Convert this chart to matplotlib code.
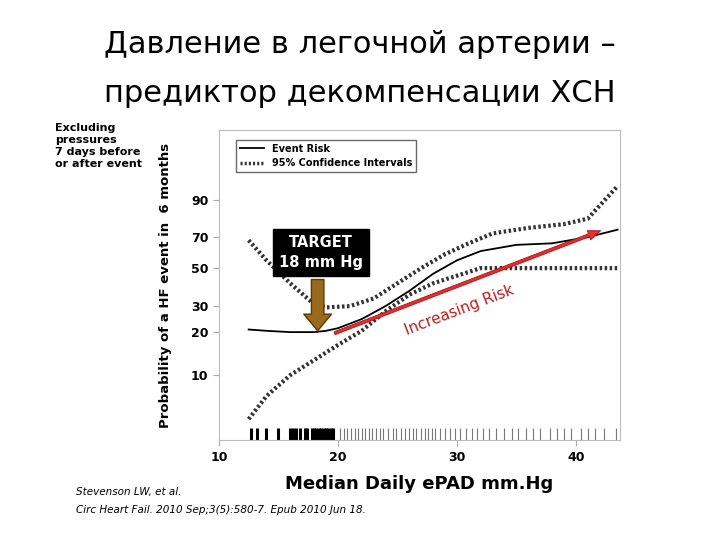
import numpy as np
import matplotlib.pyplot as plt

# tick value -> vertical position (pixels from top)
scale_vals = [0, 5, 10, 20, 30, 50, 70, 90, 100]
scale_pos = [440, 410, 375, 332, 306, 268, 237, 200, 130]

def fwd(v):
    return -np.interp(v, scale_vals, scale_pos)

def inv(p):
    return np.interp(-p, scale_pos[::-1], scale_vals[::-1])

risk_x = [12.5, 14, 16, 18, 19, 20, 22, 24, 26, 28, 30, 32, 35, 38, 41, 43.5]
risk_y = [21, 20.5, 20, 20, 20.5, 21.5, 25, 30, 38, 47, 55, 61, 65, 66, 70, 74]
upper_x = [12.5, 14, 16, 18, 19, 21, 23, 25, 27, 29, 31, 33, 36, 39, 41, 43.5]
upper_y = [68, 55, 42, 31, 29.5, 30, 34, 42, 50, 59, 66, 72, 75, 77, 80, 92]
lower_x = [12.5, 14, 16, 18, 20, 22, 24, 26, 28, 30, 32, 35, 43.5]
lower_y = [3.5, 7, 10, 13.5, 17, 20.5, 28, 36, 42, 46, 50, 50, 50]
rug_thick = [12.7, 13.2, 14.0, 15.0, 16.0, 16.2, 16.5, 16.8, 17.2, 17.4, 17.8, 18.0, 18.2, 18.4, 18.6, 18.8, 19.0, 19.2, 19.4, 19.6]
rug_thin = [20.2, 20.5, 20.8, 21.1, 21.4, 21.7, 22.0, 22.3, 22.6, 22.9, 23.2, 23.5, 23.8, 24.2, 24.6, 24.9, 25.3, 25.6, 26.0,
            26.3, 26.6, 27.0, 27.3, 27.6, 27.9, 28.2, 28.6, 29.0, 29.4, 29.8, 30.3, 30.8, 31.3, 31.7, 32.2, 32.7, 33.3,
            34.0, 34.6, 35.1, 35.8, 36.4, 37.0, 37.8, 38.4, 39.0, 39.6, 40.4, 41.0, 41.6, 42.4, 43.4]
y_ticks = [10, 20, 30, 50, 70, 90]
x_ticks = [10, 20, 30, 40]

fig = plt.figure(figsize=(7.2, 5.4), dpi=100)
fig.patch.set_facecolor('white')
ax = fig.add_axes([0.304, 0.185, 0.557, 0.574])
ax.set_yscale('function', functions=(fwd, inv))
ax.set_xlim(10, 43.7)
ax.set_ylim(0, 100)

ax.plot(risk_x, risk_y, color='black', lw=1.3)
ax.plot(upper_x, upper_y, color='#333333', lw=3, ls=(0, (0.6, 0.6)))
ax.plot(lower_x, lower_y, color='#333333', lw=3, ls=(0, (0.6, 0.6)))
ax.vlines(rug_thick, 0, 2.0, color='black', lw=2.2)
ax.vlines(rug_thin, 0, 2.0, color='#777777', lw=0.8)

ax.set_yticks(y_ticks)
ax.set_xticks(x_ticks)
ax.minorticks_off()
ax.tick_params(labelsize=9, length=4, color='#aaaaaa')
for lab in ax.get_xticklabels() + ax.get_yticklabels():
    lab.set_fontweight('bold')
for s in ax.spines.values():
    s.set_color('#bbbbbb')
    s.set_linewidth(0.8)
ax.set_ylabel('Probability of a HF event in  6 months', fontsize=9.5, fontweight='bold', labelpad=14)
ax.set_xlabel('Median Daily ePAD mm.Hg', fontsize=13, fontweight='bold', labelpad=8)

# legend
ax.legend([plt.Line2D([], [], color='black', lw=1.3),
           plt.Line2D([], [], color='#333333', lw=2.5, ls=(0, (0.6, 0.6)))],
          ['Event Risk', '95% Confidence Intervals'], loc='upper left',
          bbox_to_anchor=(0.03, 0.985), prop=dict(size=7, weight='bold'), frameon=True, fancybox=False,
          edgecolor='#444444', handlelength=2.5, borderpad=0.4, labelspacing=0.5)

# target box and arrow
ax.annotate('', xy=(18.3, 20.5), xytext=(18.3, 44),
            arrowprops=dict(facecolor='#9a6a1c', edgecolor='#5a3a0a', width=9, headwidth=20, headlength=12))
ax.text(18.6, 60, 'TARGET\n18 mm Hg', ha='center', va='center', color='white', fontsize=10.5,
        fontweight='bold', linespacing=1.4,
        bbox=dict(boxstyle='square,pad=0.4', facecolor='black', edgecolor='black'))

# increasing risk arrow
ax.annotate('', xy=(42.3, 74), xytext=(19.5, 19.5),
            arrowprops=dict(arrowstyle='simple,head_width=0.7,head_length=0.9,tail_width=0.22',
                            facecolor='#e03030', edgecolor='#b01010', lw=0.6))
ax.text(30.2, 28.5, 'Increasing Risk', color='#b22222', fontsize=11, rotation=21, ha='center', va='center')

fig.text(0.5, 0.917, 'Давление в легочной артерии –', ha='center', va='center', fontsize=22)
fig.text(0.5, 0.826, 'предиктор декомпенсации ХСН', ha='center', va='center', fontsize=22)
fig.text(0.077, 0.73, 'Excluding\npressures\n7 days before\nor after event', ha='left', va='center',
         fontsize=8, fontweight='bold', linespacing=1.25)
fig.text(0.105, 0.088, 'Stevenson LW, et al.', ha='left', va='center', fontsize=7.5, style='italic')
fig.text(0.105, 0.055, 'Circ Heart Fail. 2010 Sep;3(5):580-7. Epub 2010 Jun 18.',
         ha='left', va='center', fontsize=7.5, style='italic')

fig.savefig('out.png', dpi=100)
